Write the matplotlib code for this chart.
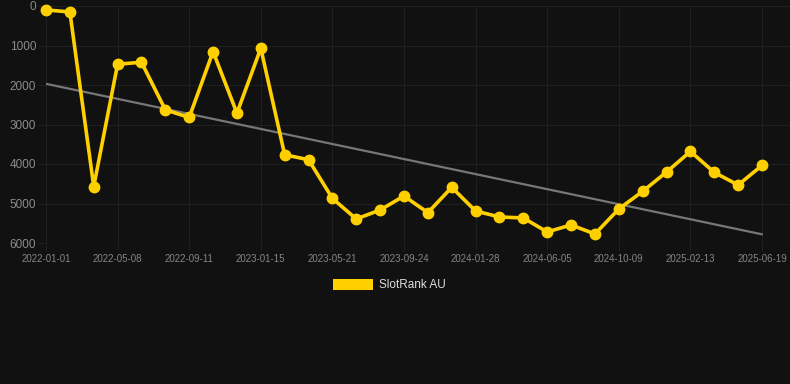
import matplotlib
matplotlib.use("Agg")
import matplotlib.pyplot as plt
from matplotlib.patches import Rectangle

dates = ["2022-01-01", "2022-02-12", "2022-03-26", "2022-05-08", "2022-06-19",
         "2022-07-31", "2022-09-11", "2022-10-23", "2022-12-04", "2023-01-15",
         "2023-02-26", "2023-04-09", "2023-05-21", "2023-07-02", "2023-08-13",
         "2023-09-24", "2023-11-05", "2023-12-17", "2024-01-28", "2024-03-10",
         "2024-04-22", "2024-06-05", "2024-07-17", "2024-08-28", "2024-10-09",
         "2024-11-20", "2025-01-01", "2025-02-13", "2025-03-27", "2025-05-08",
         "2025-06-19"]
ranks = [100, 150, 4570, 1474, 1424, 2628, 2822, 1154, 2713, 1070,
         3766, 3892, 4870, 5392, 5164, 4810, 5232, 4591, 5190, 5341,
         5366, 5720, 5543, 5771, 5139, 4692, 4204, 3682, 4212, 4532,
         4035]
trend_ends = [1970, 5780]
yticks = [0, 1000, 2000, 3000, 4000, 5000, 6000]
series_name = "SlotRank AU"

BG = "#111111"
GOLD = "#FFD000"
GRID = "#1f1f1f"

W, H = 790, 384
fig = plt.figure(figsize=(W / 100, H / 100), dpi=100, facecolor=BG)
# chart area in pixels: x 46..790, y 6..243
ax = fig.add_axes([46 / W, 1 - 243 / H, (790 - 46) / W, (243 - 6) / H], facecolor=BG)

x = list(range(len(ranks)))
ax.plot([x[0], x[-1]], trend_ends, color="#777777", lw=1.6, zorder=2, solid_capstyle="round")
ax.plot(x, ranks, color=GOLD, lw=2.6, marker="o", ms=7.5, mfc=GOLD, mec=GOLD,
        zorder=3, clip_on=False, solid_joinstyle="round")

px_per_idx = (762 - 46) / 30
ax.set_xlim(0, 30 + (790 - 762) / px_per_idx)
ax.set_ylim(6000, 0)
ax.set_yticks(yticks)
ax.set_yticklabels([str(v) for v in yticks])
tick_idx = x[::3]
ax.set_xticks(tick_idx)
ax.set_xticklabels([dates[i] for i in tick_idx])

ax.grid(True, color=GRID, lw=0.8)
for s in ax.spines.values():
    s.set_visible(False)
ax.tick_params(axis="y", length=6, color=GRID, labelcolor="#8c8c8c", labelsize=8.5, pad=1)
ax.tick_params(axis="x", length=6, color=GRID, labelcolor="#858585", labelsize=7, pad=2)
for lab in ax.get_xticklabels() + ax.get_yticklabels():
    lab.set_fontfamily("Liberation Sans")

# legend
fig.patches.append(Rectangle((333 / W, 1 - 290 / H), 40 / W, 11 / H,
                             transform=fig.transFigure, facecolor=GOLD, edgecolor="none"))
fig.text(379 / W, 1 - 285 / H, series_name, color="#dddddd", fontsize=8.5,
         family="Liberation Sans", va="center", ha="left")

fig.savefig("out.png", dpi=100, facecolor=BG)
